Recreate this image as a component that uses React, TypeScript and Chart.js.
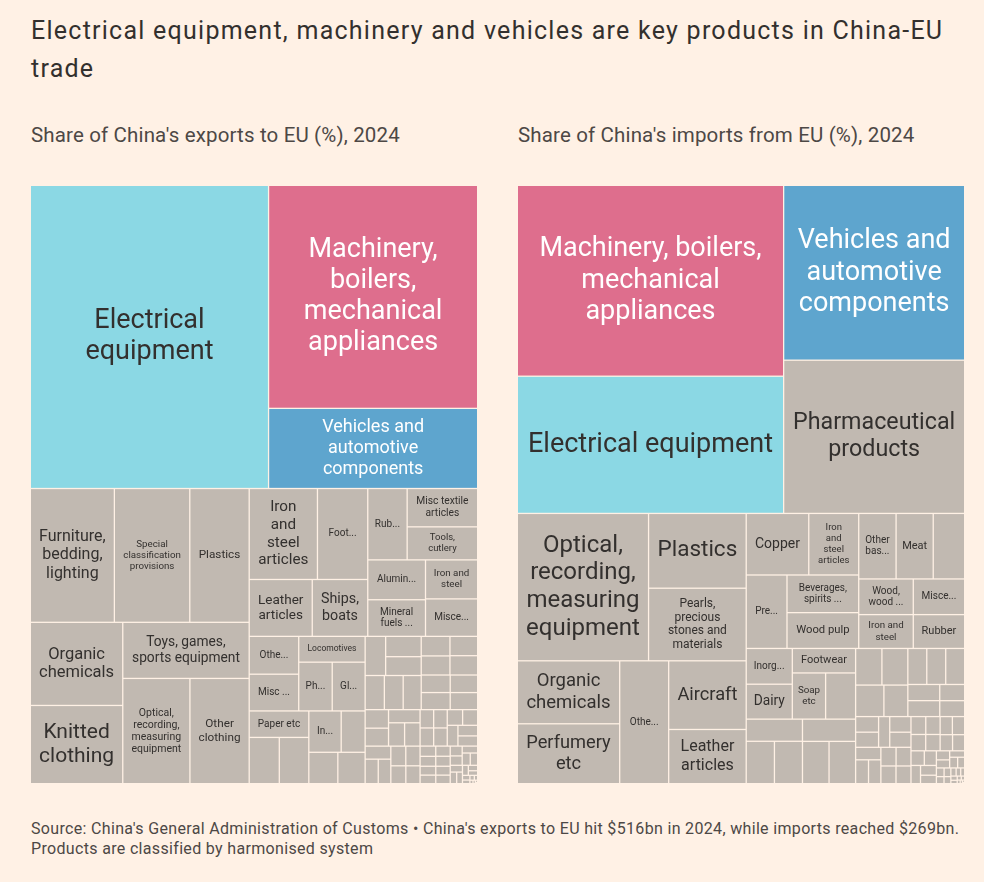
import React, { useEffect, useRef } from "react";
import { Chart, registerables } from "chart.js";

Chart.register(...registerables);

// ---------- DATA ----------
const exportCategories: string[] = [
  "Electrical equipment",
  "Machinery, boilers, mechanical appliances",
  "Vehicles and automotive components",
  "Furniture, bedding, lighting",
  "Special classification provisions",
  "Plastics",
  "Organic chemicals",
  "Knitted clothing",
  "Toys, games, sports equipment",
  "Optical, recording, measuring equipment",
  "Other clothing",
  "Iron and steel articles",
  "Footwear",
  "Leather articles",
  "Ships, boats",
  "Rubber",
  "Misc textile articles",
  "Tools, cutlery",
  "Aluminium",
  "Mineral fuels, oils, waxes",
  "Iron and steel",
  "Miscellaneous manufactured articles",
  "Other made-up textile articles",
  "Misc chemical products",
  "Locomotives",
  "Pharmaceutical products",
  "Glass and glassware",
  "Paper etc",
  "Articles of base metal",
  "Ceramic products",
  "Inorganic chemicals",
  "Man-made filaments",
  "Knitted fabrics",
  "Stone, plaster, cement",
  "Cotton",
  "Man-made staple fibres",
  "Tanning and dyeing extracts",
  "Essential oils, cosmetics",
  "Prepared feathers, wigs",
  "Copper",
  "Impregnated fabrics",
  "Fish",
  "Soap etc",
  "Vegetable preparations",
  "Clocks and watches",
  "Headgear",
  "Special woven fabrics",
  "Wadding, felt",
  "Other base metals",
  "Meat and fish preparations",
  "Carpets",
  "Nickel",
  "Photographic goods",
  "Musical instruments",
  "Umbrellas",
  "Miscellaneous edible preparations",
  "Fruit and nuts",
  "Vegetables",
  "Printed books",
  "Aircraft",
  "Albuminoids",
  "Explosives",
  "Fertilisers",
  "Oil seeds",
  "Zinc",
  "Tin",
  "Salt, sulphur",
  "Residues, animal fodder",
  "Cereal preparations",
  "Coffee, tea, spices",
  "Sugar",
  "Wood",
  "Silk",
  "Vegetable fibres",
  "Furskins",
  "Lac, gums, resins",
  "Wool",
  "Raw hides",
  "Animal products",
  "Live trees, plants",
  "Cocoa",
  "Ores, slag and ash",
  "Beverages, spirits, vinegar",
  "Lead",
  "Arms and ammunition",
  "Wood pulp",
  "Pearls, precious stones",
  "Straw, basketware",
  "Animal fats, oils",
  "Cork",
  "Milling products",
  "Tobacco",
  "Dairy",
  "Meat",
  "Cereals",
  "Works of art",
];

const exportShares: number[] = [
  26.98, 17.42, 6.26, 4.2, 3.77, 2.97, 2.87, 2.7, 2.65, 2.64, 2.33, 2.32, 1.71,
  1.34, 1.18, 1.05, 1.01, 0.87, 0.86, 0.79, 0.76, 0.73, 0.7, 0.68, 0.64, 0.61,
  0.6, 0.59, 0.52, 0.51, 0.5, 0.37, 0.34, 0.32, 0.3, 0.27, 0.25, 0.245, 0.24,
  0.23, 0.21, 0.205, 0.2, 0.2, 0.19, 0.185, 0.18, 0.175, 0.162, 0.157, 0.155,
  0.14, 0.135, 0.125, 0.12, 0.115, 0.11, 0.105, 0.1, 0.095, 0.093, 0.093,
  0.092, 0.092, 0.09, 0.088, 0.083, 0.078, 0.075, 0.06, 0.058, 0.055, 0.054,
  0.052, 0.05, 0.048, 0.046, 0.044, 0.042, 0.04, 0.037, 0.034, 0.031, 0.028,
  0.025, 0.022, 0.019, 0.016, 0.013, 0.01, 0.008, 0.006, 0.004, 0.003, 0.002,
  0.001,
];

const importCategories: string[] = [
  "Machinery, boilers, mechanical appliances",
  "Electrical equipment",
  "Vehicles and automotive components",
  "Pharmaceutical products",
  "Optical, recording, measuring equipment",
  "Plastics",
  "Pearls, precious stones and materials",
  "Organic chemicals",
  "Perfumery etc",
  "Other chemical products",
  "Aircraft",
  "Leather articles",
  "Copper",
  "Iron and steel articles",
  "Preparations of cereals",
  "Beverages, spirits, vinegar",
  "Wood pulp",
  "Other base metals",
  "Meat",
  "Ores, slag and ash",
  "Wood, wood articles",
  "Iron and steel",
  "Miscellaneous edible preparations",
  "Rubber",
  "Inorganic chemicals",
  "Dairy",
  "Footwear",
  "Soap etc",
  "Furniture, bedding, lighting",
  "Paper etc",
  "Fish",
  "Aluminium",
  "Other clothing",
  "Tools, cutlery",
  "Glass and glassware",
  "Toys, games, sports equipment",
  "Knitted clothing",
  "Special classification provisions",
  "Miscellaneous manufactured articles",
  "Fertilisers",
  "Ceramic products",
  "Photographic goods",
  "Tanning and dyeing extracts",
  "Albuminoids",
  "Articles of base metal",
  "Nickel",
  "Fruit and nuts",
  "Clocks and watches",
  "Cocoa",
  "Musical instruments",
  "Raw hides",
  "Mineral fuels, oils, waxes",
  "Ships, boats",
  "Locomotives",
  "Wool",
  "Man-made filaments",
  "Man-made staple fibres",
  "Sugar",
  "Coffee, tea, spices",
  "Cotton",
  "Misc textile articles",
  "Animal products",
  "Live animals",
  "Stone, plaster, cement",
  "Special woven fabrics",
  "Wadding, felt",
  "Impregnated fabrics",
  "Knitted fabrics",
  "Carpets",
  "Vegetable preparations",
  "Meat and fish preparations",
  "Oil seeds",
  "Explosives",
  "Zinc",
  "Salt, sulphur",
  "Animal fats, oils",
  "Residues, animal fodder",
  "Lac, gums, resins",
  "Cereals",
  "Printed books",
  "Tobacco",
  "Arms and ammunition",
  "Works of art",
  "Vegetables",
  "Headgear",
  "Umbrellas",
  "Prepared feathers, wigs",
  "Tin",
  "Lead",
  "Silk",
  "Cork",
];

const importShares: number[] = [
  19.0, 13.66, 11.83, 10.37, 7.23, 2.73, 2.65, 2.41, 2.29, 2.25, 1.99, 1.57,
  1.44, 1.15, 1.12, 1.01, 0.96, 0.915, 0.91, 0.77, 0.727, 0.69, 0.685, 0.65,
  0.616, 0.602, 0.58, 0.575, 0.518, 0.466, 0.447, 0.444, 0.442, 0.42, 0.42,
  0.36, 0.355, 0.333, 0.282, 0.255, 0.255, 0.255, 0.193, 0.19, 0.151, 0.148,
  0.134, 0.13, 0.128, 0.124, 0.12, 0.118, 0.115, 0.11, 0.106, 0.104, 0.1,
  0.099, 0.099, 0.096, 0.09, 0.088, 0.083, 0.083, 0.075, 0.073, 0.073, 0.066,
  0.065, 0.058, 0.05, 0.045, 0.04, 0.036, 0.032, 0.028, 0.025, 0.022, 0.02,
  0.018, 0.016, 0.014, 0.012, 0.01, 0.008, 0.006, 0.005, 0.004, 0.003, 0.002,
  0.001,
];

const highlightCategories: string[] = [
  "Electrical equipment",
  "Machinery, boilers, mechanical appliances",
  "Vehicles and automotive components",
];

const titleLines: string[] = [
  "Electrical equipment, machinery and vehicles are key products in China-EU",
  "trade",
];
const exportSubtitle = "Share of China's exports to EU (%), 2024";
const importSubtitle = "Share of China's imports from EU (%), 2024";
const footerLines: string[] = [
  "Source: China's General Administration of Customs \u2022 China's exports to EU hit $516bn in 2024, while imports reached $269bn.",
  "Products are classified by harmonised system",
];

// ---------- STYLE ----------
const BG = "#fff1e5";
const TEXT_DARK = "#33302e";
const TEXT_GREY = "#4d4845";
const OTHER_FILL = "#c1b9b1";
const HIGHLIGHT_FILLS = ["#8bd8e4", "#de6e8d", "#5ea5ce"];
const HIGHLIGHT_TEXT = [TEXT_DARK, "#ffffff", "#ffffff"];
const FONT = 'Roboto, "Liberation Sans", Arial, sans-serif';
const MAP_W = 446;
const MAP_H = 597;
const GAP = 1.3;
const LH = 1.15;
const MAX_FONT = 27;
const MIN_FONT = 8.5;
const FALLBACK_FONT = 10;

// ---------- TREEMAP (binary layout, as d3.treemapBinary) ----------
type Cell = { i: number; x0: number; y0: number; x1: number; y1: number };

function binaryLayout(values: number[], X0: number, Y0: number, X1: number, Y1: number): Cell[] {
  const n = values.length;
  const sums: number[] = new Array(n + 1);
  sums[0] = 0;
  for (let i = 0; i < n; i++) sums[i + 1] = sums[i] + values[i];
  const out: Cell[] = [];
  function partition(i: number, j: number, value: number, x0: number, y0: number, x1: number, y1: number) {
    if (i >= j - 1) {
      out.push({ i, x0, y0, x1, y1 });
      return;
    }
    const valueOffset = sums[i];
    const valueTarget = value / 2 + valueOffset;
    let k = i + 1;
    let hi = j - 1;
    while (k < hi) {
      const mid = (k + hi) >>> 1;
      if (sums[mid] < valueTarget) k = mid + 1;
      else hi = mid;
    }
    if (valueTarget - sums[k - 1] < sums[k] - valueTarget && i + 1 < k) --k;
    const valueLeft = sums[k] - valueOffset;
    const valueRight = value - valueLeft;
    if (x1 - x0 > y1 - y0) {
      const xk = value ? (x0 * valueRight + x1 * valueLeft) / value : x1;
      partition(i, k, valueLeft, x0, y0, xk, y1);
      partition(k, j, valueRight, xk, y0, x1, y1);
    } else {
      const yk = value ? (y0 * valueRight + y1 * valueLeft) / value : y1;
      partition(i, k, valueLeft, x0, y0, x1, yk);
      partition(k, j, valueRight, x0, yk, x1, y1);
    }
  }
  partition(0, n, sums[n], X0, Y0, X1, Y1);
  return out;
}

function wrapWords(ctx: CanvasRenderingContext2D, words: string[], maxW: number): string[] | null {
  const lines: string[] = [];
  let cur = "";
  for (const w of words) {
    if (ctx.measureText(w).width > maxW) return null;
    const t = cur ? cur + " " + w : w;
    if (ctx.measureText(t).width <= maxW) cur = t;
    else {
      lines.push(cur);
      cur = w;
    }
  }
  if (cur) lines.push(cur);
  return lines;
}

function truncWrap(ctx: CanvasRenderingContext2D, words: string[], maxW: number, maxLines: number): string[] {
  const fits = (s: string) => ctx.measureText(s).width <= maxW;
  const lines: string[] = [];
  let cur: string[] = [];
  let cut = false;
  let pending = "";
  for (const wd of words) {
    if (!fits(wd)) {
      cut = true;
      pending = wd;
      break;
    }
    const t = [...cur, wd].join(" ");
    if (fits(t)) {
      cur.push(wd);
      continue;
    }
    if (lines.length + 1 >= maxLines) {
      cut = true;
      pending = wd;
      break;
    }
    lines.push(cur.join(" "));
    cur = [wd];
  }
  if (!cut) {
    if (cur.length) lines.push(cur.join(" "));
    return lines;
  }
  const first = cur.length ? cur[0] : pending;
  while (cur.length) {
    const t = cur.join(" ").replace(/[,;:]$/, "") + " ...";
    if (fits(t)) {
      lines.push(t);
      return lines;
    }
    cur.pop();
  }
  for (let c = first.length - 1; c >= 1; c--) {
    const t = first.slice(0, c).replace(/[,;:]$/, "") + "...";
    if (fits(t)) {
      lines.push(t);
      return lines;
    }
  }
  return lines;
}

function fitLabel(ctx: CanvasRenderingContext2D, text: string, w: number, h: number) {
  if (w < 31 || h < 23) return null;
  const padH = Math.min(8, 0.15 * w);
  const padV = Math.min(8, 0.15 * h);
  const aw = w - 2 * padH;
  const ah = h - 2 * padV;
  const words = text.split(" ");
  for (let f = MAX_FONT; f >= MIN_FONT; f -= 0.25) {
    ctx.font = `${f}px ${FONT}`;
    const lines = wrapWords(ctx, words, aw);
    if (lines && lines.length * LH * f <= ah) return { f, lines };
  }
  const f = FALLBACK_FONT;
  ctx.font = `${f}px ${FONT}`;
  const maxLines = Math.max(1, Math.floor(ah / (LH * f)));
  const lines = truncWrap(ctx, words, aw, maxLines);
  if (!lines.length) return null;
  return { f, lines };
}

function makeTreemapPlugin(categories: string[], values: number[]) {
  return {
    id: "treemapCells",
    afterDraw(chart: any) {
      const ctx: CanvasRenderingContext2D = chart.ctx;
      const xs = chart.scales.x;
      const ys = chart.scales.y;
      const order = values.map((_, i) => i).sort((a, b) => values[b] - values[a]);
      const sorted = order.map((i) => values[i]);
      const cells = binaryLayout(sorted, xs.min - GAP / 2, ys.min - GAP / 2, xs.max + GAP / 2, ys.max + GAP / 2);
      ctx.save();
      for (const c of cells) {
        const idx = order[c.i];
        const name = categories[idx];
        const hi = highlightCategories.indexOf(name);
        const px0 = xs.getPixelForValue(c.x0 + GAP / 2);
        const px1 = xs.getPixelForValue(c.x1 - GAP / 2);
        const py0 = ys.getPixelForValue(c.y0 + GAP / 2);
        const py1 = ys.getPixelForValue(c.y1 - GAP / 2);
        const w = px1 - px0;
        const h = py1 - py0;
        if (w <= 0 || h <= 0) continue;
        ctx.fillStyle = hi >= 0 ? HIGHLIGHT_FILLS[hi] : OTHER_FILL;
        ctx.fillRect(px0, py0, w, h);
        const label = fitLabel(ctx, name, w, h);
        if (!label) continue;
        ctx.font = `${label.f}px ${FONT}`;
        ctx.fillStyle = hi >= 0 ? HIGHLIGHT_TEXT[hi] : TEXT_DARK;
        ctx.textAlign = "center";
        ctx.textBaseline = "middle";
        const cx = px0 + w / 2;
        const cy = py0 + h / 2;
        const n = label.lines.length;
        label.lines.forEach((ln, k) => {
          ctx.fillText(ln, cx, cy + (k - (n - 1) / 2) * LH * label.f);
        });
      }
      ctx.restore();
    },
  };
}

function Treemap({ categories, values }: { categories: string[]; values: number[] }) {
  const ref = useRef<HTMLCanvasElement | null>(null);
  useEffect(() => {
    if (!ref.current) return;
    const chart = new Chart(ref.current, {
      type: "scatter",
      data: { datasets: [{ data: [] }] },
      options: {
        animation: false,
        responsive: false,
        maintainAspectRatio: false,
        events: [],
        layout: { padding: 0 },
        plugins: { legend: { display: false }, tooltip: { enabled: false } },
        scales: {
          x: { type: "linear", min: 0, max: MAP_W, display: false },
          y: { type: "linear", min: 0, max: MAP_H, reverse: true, display: false },
        },
      },
      plugins: [makeTreemapPlugin(categories, values)],
    } as any);
    return () => chart.destroy();
  }, [categories, values]);
  return (
    <canvas
      ref={ref}
      width={MAP_W}
      height={MAP_H}
      style={{ width: MAP_W, height: MAP_H, display: "block" }}
    />
  );
}

export default function App() {
  return (
    <div
      style={{
        position: "absolute",
        left: 0,
        top: 0,
        width: 984,
        height: 882,
        background: BG,
        fontFamily: FONT,
        overflow: "hidden",
      }}
    >
      <div
        style={{
          position: "absolute",
          left: 31,
          top: 12,
          fontSize: 25,
          letterSpacing: "1.25px",
          lineHeight: "38px",
          color: TEXT_DARK,
          whiteSpace: "nowrap",
        }}
      >
        {titleLines[0]}
        <br />
        {titleLines[1]}
      </div>
      <div
        style={{
          position: "absolute",
          left: 31,
          top: 123,
          fontSize: 20.5,
          letterSpacing: "0.15px",
          lineHeight: "24px",
          color: TEXT_GREY,
          whiteSpace: "nowrap",
        }}
      >
        {exportSubtitle}
      </div>
      <div
        style={{
          position: "absolute",
          left: 518,
          top: 123,
          fontSize: 20.5,
          letterSpacing: "0.15px",
          lineHeight: "24px",
          color: TEXT_GREY,
          whiteSpace: "nowrap",
        }}
      >
        {importSubtitle}
      </div>
      <div style={{ position: "absolute", left: 31, top: 186 }}>
        <Treemap categories={exportCategories} values={exportShares} />
      </div>
      <div style={{ position: "absolute", left: 518, top: 186 }}>
        <Treemap categories={importCategories} values={importShares} />
      </div>
      <div
        style={{
          position: "absolute",
          left: 31,
          top: 818.5,
          fontSize: 16,
          letterSpacing: "0.33px",
          lineHeight: "20.7px",
          color: TEXT_GREY,
          whiteSpace: "nowrap",
        }}
      >
        {footerLines[0]}
        <br />
        {footerLines[1]}
      </div>
    </div>
  );
}
